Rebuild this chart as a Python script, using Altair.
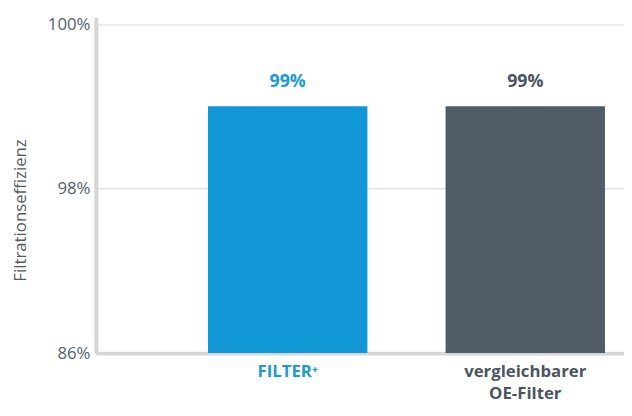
import altair as alt
import pandas as pd

categories = ["FILTER⁺", "vergleichbarer OE-Filter"]
values = [99, 99]
value_labels = ["99%", "99%"]
bar_colors = ["#1297d6", "#505c67"]
label_colors = ["#1a9ad6", "#4a5560"]
y_ticks = [86, 98, 100]
y_base = 86

df = pd.DataFrame({"cat": categories, "val": values, "label": value_labels})

FONT = "Open Sans"

x = alt.X(
    "cat:N",
    sort=categories,
    title=None,
    scale=alt.Scale(paddingInner=0.329, paddingOuter=0.276, align=0.855),
    axis=alt.Axis(
        labelAngle=0,
        domainColor="#d6d6d6",
        domainWidth=4,
        ticks=False,
        grid=False,
        labelFont=FONT,
        labelFontSize=17,
        labelFontWeight="bold",
        labelPadding=11,
        labelLineHeight=22,
        labelBaseline="top",
        labelExpr="datum.value == 'vergleichbarer OE-Filter' ? ['vergleichbarer', 'OE-Filter'] : datum.value",
        labelColor={"condition": {"test": "datum.value == 'FILTER⁺'", "value": label_colors[0]},
                    "value": label_colors[1]},
    ),
)

yscale = alt.Scale(domain=[86, 98, 100, 100.084], range=[340, 173, 7, 0], zero=False, nice=False)

y = alt.Y(
    "val:Q",
    scale=yscale,
    title="Filtrationseffizienz",
    axis=alt.Axis(
        values=y_ticks,
        labelExpr="datum.value + '%'",
        domainColor="#d6d6d6",
        domainWidth=4,
        ticks=False,
        grid=True,
        gridColor="#e2e2e2",
        gridWidth=1.5,
        labelFont=FONT,
        labelFontSize=17,
        labelColor="#52606c",
        labelPadding=6,
        titleFont=FONT,
        titleFontSize=17,
        titleFontWeight="normal",
        titleColor="#555a60",
        titleX=-76,
        titleY=195,
        titleAngle=-90,
        titleAlign="center",
        titleBaseline="middle",
    ),
)

color = alt.Color("cat:N", scale=alt.Scale(domain=categories, range=bar_colors), legend=None)
tcolor = alt.Color("cat:N", scale=alt.Scale(domain=categories, range=label_colors), legend=None)

bars = alt.Chart(df).mark_bar().encode(x=x, y=y, y2=alt.datum(y_base), color=color)
texts = alt.Chart(df).mark_text(dy=-25, fontSize=18, fontWeight="bold", font=FONT).encode(
    x=alt.X("cat:N", sort=categories), y=alt.Y("val:Q"), text="label:N", color=tcolor
)

chart = (
    alt.layer(bars, texts)
    .resolve_scale(color="independent")
    .properties(
        width=535,
        height=340,
        autosize=alt.AutoSizeParams(type="none"),
        padding={"left": 89, "top": 7, "right": 0, "bottom": 52},
    )
    .configure_view(stroke=None)
)

chart.save("out.html", embed_options={"renderer": "svg", "actions": False})
